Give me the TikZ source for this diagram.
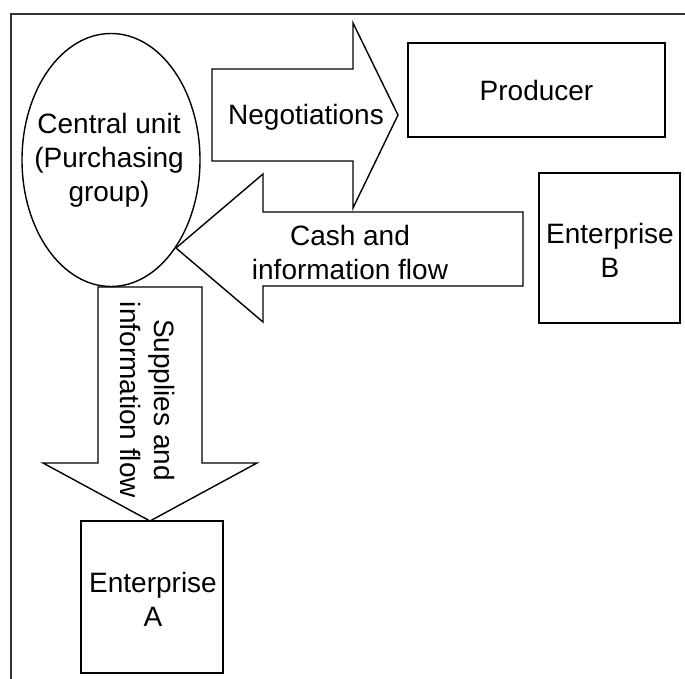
\documentclass[tikz,border=0pt]{standalone}
\usepackage{fontspec}
\setmainfont{Liberation Sans}
\usetikzlibrary{shapes.geometric}
\begin{document}
\begin{tikzpicture}[x=1pt,y=-1pt,
  shape line/.style={draw=black,line width=1.4pt,fill=white,line join=miter},
  boxnode/.style={shape line,rectangle,inner sep=0pt},
  label text/.style={font=\fontsize{28}{34}\selectfont,align=center,inner sep=0pt},
  frame line/.style={draw=black!80,line width=1.6pt}]
\useasboundingbox (0,0) rectangle (685,679);
\draw[frame line] (11,679) -- (11,14) -- (685,14);
% block arrows
\draw[shape line] (212,69) -- (353,69) -- (353,23) -- (398,115) -- (353,208) -- (353,161) -- (212,161) -- cycle;
\draw[shape line] (523,212) -- (263,212) -- (263,174) -- (176,248) -- (263,322) -- (263,286) -- (523,286) -- cycle;
\draw[shape line] (98,287) -- (202,287) -- (202,463) -- (257,463) -- (150,521) -- (43,463) -- (98,463) -- cycle;
% nodes
\node[shape line,ellipse,minimum width=178pt,minimum height=253pt,inner sep=0pt] (central) at (111,160) {};
\node[label text] (centraltext) at (109,160) {Central unit\\(Purchasing\\group)};
\node[boxnode,minimum width=257pt,minimum height=94pt] (producer) at (536.5,90) {};
\node[label text] (producertext) at (producer.center) {Producer};
\node[boxnode,minimum width=141pt,minimum height=150pt] (entb) at (609.5,248) {};
\node[label text] (entbtext) at (610,250) {Enterprise\\B};
\node[boxnode,minimum width=142pt,minimum height=152pt] (enta) at (152,597) {};
\node[label text] (entatext) at (153,599) {Enterprise\\A};
\node[label text] (negtext) at (306,117) {Negotiations};
\node[label text] (cashtext) at (350,252) {Cash and\\information flow};
\node[label text,rotate=-90] (supptext) at (148,400) {Supplies and\\information flow};
\end{tikzpicture}
\end{document}
